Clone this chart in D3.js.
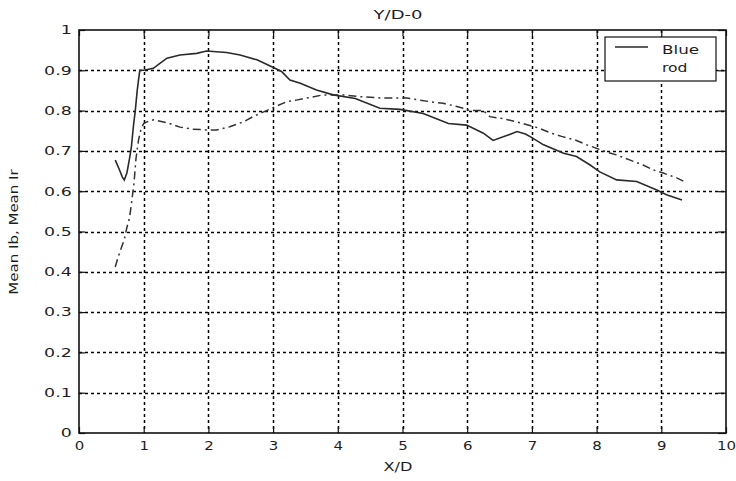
<!DOCTYPE html>
<html>
<head>
<meta charset="utf-8">
<script src="https://cdn.jsdelivr.net/npm/d3@7"></script>
<style>
  html, body { margin: 0; padding: 0; background: #fff; }
  svg { display: block; }
  text { font-family: "DejaVu Sans", sans-serif; fill: #1e1e1e; }
</style>
</head>
<body>
<svg id="chart" width="736" height="481"></svg>
<script>
// ---- data ----
const title = "Y/D-0";
const xLabel = "X/D";
const yLabel = "Mean Ib, Mean Ir";
const seriesNames = ["Blue", "rod"];

const xTicks = [0, 1, 2, 3, 4, 5, 6, 7, 8, 9, 10];
const xTickLabels = ["0", "1", "2", "3", "4", "5", "6", "7", "8", "9", "10"];
const yTicks = [0, 0.1, 0.2, 0.3, 0.4, 0.5, 0.6, 0.7, 0.8, 0.9, 1];
const yTickLabels = ["0", "0.1", "0.2", "0.3", "0.4", "0.5", "0.6", "0.7", "0.8", "0.9", "1"];

const blueX = [0.56, 0.62, 0.67, 0.70, 0.74, 0.78, 0.81, 0.84, 0.87, 0.90, 0.92, 0.94, 1.0, 1.15, 1.25, 1.36, 1.56, 1.82, 1.97, 2.28, 2.49, 2.75, 2.98, 3.13, 3.26, 3.42, 3.67, 3.93, 4.27, 4.65, 4.96, 5.32, 5.71, 5.99, 6.25, 6.40, 6.61, 6.77, 6.90, 7.0, 7.18, 7.49, 7.69, 7.90, 8.05, 8.31, 8.62, 8.93, 9.08, 9.32];
const blueY = [0.677, 0.655, 0.635, 0.628, 0.645, 0.68, 0.71, 0.76, 0.80, 0.85, 0.876, 0.90, 0.90, 0.905, 0.917, 0.93, 0.938, 0.942, 0.948, 0.944, 0.938, 0.926, 0.909, 0.897, 0.876, 0.868, 0.851, 0.839, 0.83, 0.806, 0.803, 0.793, 0.768, 0.764, 0.744, 0.726, 0.738, 0.748, 0.742, 0.733, 0.715, 0.694, 0.686, 0.665, 0.648, 0.628, 0.624, 0.603, 0.591, 0.578];

const rodX = [0.56, 0.60, 0.66, 0.70, 0.74, 0.78, 0.81, 0.85, 0.88, 0.92, 0.96, 1.0, 1.05, 1.15, 1.36, 1.56, 1.76, 1.97, 2.13, 2.33, 2.54, 2.69, 2.80, 2.98, 3.21, 3.36, 3.55, 3.77, 3.93, 4.08, 4.39, 4.70, 4.91, 5.07, 5.43, 5.63, 5.84, 5.94, 6.04, 6.25, 6.35, 6.55, 6.77, 7.1, 7.3, 7.46, 7.67, 7.85, 8.16, 8.31, 8.52, 8.72, 8.87, 9.03, 9.24, 9.34];
const rodY = [0.412, 0.434, 0.462, 0.48, 0.51, 0.533, 0.568, 0.62, 0.68, 0.727, 0.755, 0.768, 0.772, 0.777, 0.770, 0.759, 0.754, 0.752, 0.752, 0.76, 0.772, 0.785, 0.793, 0.806, 0.822, 0.826, 0.832, 0.839, 0.839, 0.839, 0.834, 0.831, 0.831, 0.831, 0.822, 0.818, 0.81, 0.806, 0.80, 0.80, 0.785, 0.78, 0.772, 0.757, 0.744, 0.736, 0.727, 0.715, 0.697, 0.69, 0.677, 0.665, 0.653, 0.645, 0.633, 0.625];

// ---- layout ----
const L = 79, R = 726, T = 30, B = 433;
const svg = d3.select("#chart");
const x = d3.scaleLinear().domain([0, 10]).range([L, R]);
const y = d3.scaleLinear().domain([0, 1]).range([B, T]);

svg.append("rect").attr("width", 736).attr("height", 481).attr("fill", "#fff");

// grid
const grid = svg.append("g");
grid.selectAll("line.gx").data(xTicks.slice(1, -1)).join("line").attr("class", "gx")
  .attr("x1", d => Math.round(x(d)) + 0.5).attr("x2", d => Math.round(x(d)) + 0.5).attr("y1", T).attr("y2", B)
  .attr("stroke", "#000").attr("stroke-width", 1.5).attr("stroke-dasharray", "3,3");
grid.selectAll("line.gy").data(yTicks.slice(1, -1)).join("line").attr("class", "gy")
  .attr("x1", L).attr("x2", R).attr("y1", d => Math.round(y(d)) + 0.5).attr("y2", d => Math.round(y(d)) + 0.5)
  .attr("stroke", "#000").attr("stroke-width", 1.5).attr("stroke-dasharray", "3,3");

// axes
function styleAxis(g, sx) {
  g.select(".domain").remove();
  g.selectAll(".tick line").attr("stroke", "#111").attr("stroke-width", 1.2);
  g.selectAll(".tick text").attr("font-size", 12).attr("fill", "#1e1e1e")
    .attr("font-family", "DejaVu Sans, sans-serif")
    .attr("transform", `scale(${sx},1)`);
}
const xAxis = svg.append("g").attr("transform", `translate(0,${B})`)
  .call(d3.axisBottom(x).tickValues(xTicks).tickFormat((d, i) => xTickLabels[i]).tickSize(-6).tickPadding(8));
styleAxis(xAxis, 1.15);
xAxis.selectAll(".tick text").attr("font-size", 13);

const yAxis = svg.append("g").attr("transform", `translate(${L},0)`)
  .call(d3.axisLeft(y).tickValues(yTicks).tickFormat((d, i) => yTickLabels[i]).tickSize(-6).tickPadding(5));
styleAxis(yAxis, 1.45);

const topAxis = svg.append("g").attr("transform", `translate(0,${T})`)
  .call(d3.axisTop(x).tickValues(xTicks).tickFormat("").tickSize(-6));
styleAxis(topAxis, 1);
const rightAxis = svg.append("g").attr("transform", `translate(${R},0)`)
  .call(d3.axisRight(y).tickValues(yTicks).tickFormat("").tickSize(-8));
styleAxis(rightAxis, 1);

// box
svg.append("rect").attr("x", L).attr("y", T).attr("width", R - L).attr("height", B - T)
  .attr("fill", "none").attr("stroke", "#111").attr("stroke-width", 1.6);

// lines
const line = d3.line().x(d => x(d[0])).y(d => y(d[1])).curve(d3.curveLinear);
svg.append("path").datum(rodX.map((v, i) => [v, rodY[i]]))
  .attr("d", line).attr("fill", "none").attr("stroke", "#333").attr("stroke-width", 1.5)
  .attr("stroke-dasharray", "8,4,2,4");
svg.append("path").datum(blueX.map((v, i) => [v, blueY[i]]))
  .attr("d", line).attr("fill", "none").attr("stroke", "#2a2a2a").attr("stroke-width", 1.6);

// legend
const lg = svg.append("g");
lg.append("rect").attr("x", 605).attr("y", 37).attr("width", 111).attr("height", 44)
  .attr("fill", "#fff").attr("stroke", "#111").attr("stroke-width", 1.2);
lg.append("line").attr("x1", 615).attr("x2", 648).attr("y1", 47).attr("y2", 47)
  .attr("stroke", "#2a2a2a").attr("stroke-width", 1.5);
lg.append("text").attr("transform", "translate(662,54) scale(1.4,1)").attr("font-size", 12).text(seriesNames[0]);
lg.append("text").attr("transform", "translate(662,72) scale(1.3,1)").attr("font-size", 12).text(seriesNames[1]);

// titles
svg.append("text").attr("transform", "translate(398,19) scale(1.5,1)").attr("text-anchor", "middle")
  .attr("font-size", 12).text(title);
svg.append("text").attr("transform", "translate(398,471) scale(1.35,1)").attr("text-anchor", "middle")
  .attr("font-size", 12).text(xLabel);
svg.append("text").attr("transform", "translate(18,232) rotate(-90) scale(1.25,1)").attr("text-anchor", "middle")
  .attr("font-size", 12).text(yLabel);
</script>
</body>
</html>
